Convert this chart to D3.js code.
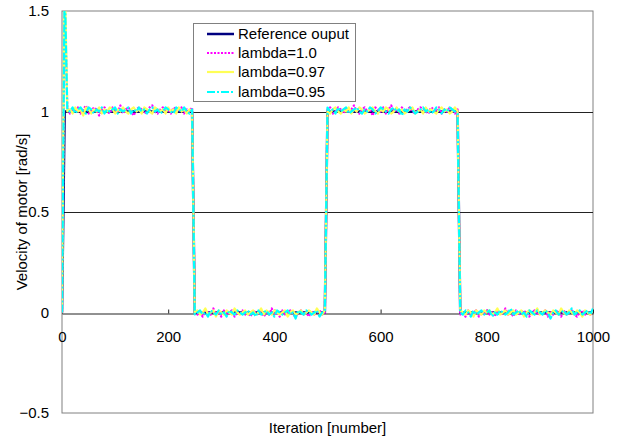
<!DOCTYPE html>
<html>
<head>
<meta charset="utf-8">
<script src="https://cdn.jsdelivr.net/npm/d3@7"></script>
<style>
  html, body { margin: 0; padding: 0; background: #fff; }
  svg { display: block; font-family: "Liberation Sans", Arial, sans-serif; }
</style>
</head>
<body>
<svg id="chart" width="622" height="439"></svg>
<script>
// Step reference (iteration, velocity) breakpoints
const refIter = [0, 5, 245, 250, 495, 500, 745, 750, 1000];
const refVel  = [0, 1, 1, 0, 0, 1, 1, 0, 0];

// Controller outputs, one sample every 5 iterations (0..1000)
const sampleStep = 5;

const lambda100 = [
  0, 1.56,
  1.02,0.99,1.01,1.00,1.02,0.99,1.01,1.03,0.99,1.00,
  1.02,1.01,0.98,1.01,1.02,1.00,0.99,1.02,1.01,1.00,
  1.03,0.99,1.01,1.02,1.00,0.98,1.01,1.02,1.01,0.99,
  1.00,1.02,1.03,1.00,0.99,1.01,1.02,1.00,1.01,0.99,
  1.02,1.01,1.00,1.02,0.99,1.01,1.00,1.02,
  0.01,-0.01,0.00,-0.02,0.01,0.00,-0.01,0.02,-0.01,0.00,
  -0.02,0.01,-0.01,0.00,0.01,-0.02,0.00,-0.01,0.01,-0.01,
  0.00,-0.02,0.01,0.00,-0.01,0.01,-0.02,0.00,-0.01,0.02,
  -0.01,0.00,-0.02,0.01,-0.01,0.00,0.01,-0.01,-0.02,0.00,
  0.01,-0.01,0.00,-0.02,0.01,-0.01,0.00,0.01,-0.01,0.00,
  1.01,1.02,0.99,1.00,1.02,1.01,0.99,1.02,1.00,1.01,
  1.03,1.00,0.99,1.01,1.02,1.00,1.01,0.98,1.02,1.01,
  1.00,1.02,0.99,1.01,1.03,1.00,1.01,0.99,1.02,1.00,
  1.01,1.02,1.00,0.99,1.01,1.02,1.01,1.00,0.99,1.02,
  1.01,1.00,1.02,0.99,1.01,1.00,1.02,1.01,0.99,1.01,
  -0.01,0.00,-0.02,0.01,-0.01,0.00,0.01,-0.02,0.00,-0.01,
  0.01,-0.01,0.00,-0.02,0.01,0.00,-0.01,0.02,-0.01,0.00,
  -0.02,0.01,-0.01,0.00,0.01,-0.01,-0.02,0.00,0.01,-0.01,
  0.00,-0.01,0.01,-0.02,0.00,-0.01,0.01,0.00,-0.02,0.01,
  -0.01,0.00,0.01,-0.01,-0.02,0.00,0.01,-0.01,0.00,-0.01,
  0.00
];

const lambda097 = [
  0, 1.72,
  1.00,1.01,0.99,1.02,1.00,1.01,0.98,1.02,1.01,0.99,
  1.01,1.00,1.02,0.99,1.01,1.00,1.02,1.01,0.99,1.01,
  1.00,1.02,1.00,0.99,1.01,1.02,1.00,1.01,0.99,1.02,
  1.01,1.00,0.99,1.02,1.01,1.00,1.01,0.99,1.02,1.00,
  1.01,0.99,1.02,1.00,1.01,0.99,1.01,1.00,
  0.00,0.01,-0.01,0.00,0.02,-0.01,0.00,0.01,-0.02,0.01,
  0.00,-0.01,0.01,0.00,-0.01,0.02,0.00,-0.01,0.00,0.01,
  -0.01,0.00,0.01,-0.01,0.00,0.02,-0.01,0.01,0.00,-0.01,
  0.01,0.00,-0.01,0.00,0.01,-0.02,0.00,0.01,-0.01,0.00,
  0.01,-0.01,0.00,0.01,0.00,-0.01,0.02,0.00,-0.01,0.01,
  1.00,0.99,1.01,1.02,1.00,0.99,1.01,1.00,1.02,0.99,
  1.01,1.00,1.02,1.01,0.99,1.00,1.01,1.02,1.00,0.99,
  1.01,1.00,1.02,1.01,0.99,1.00,1.02,1.00,1.01,0.99,
  1.00,1.01,1.02,0.99,1.00,1.01,0.99,1.02,1.00,1.01,
  1.00,0.99,1.01,1.02,1.00,1.01,0.99,1.00,1.02,1.00,
  0.01,0.00,-0.01,0.01,0.00,-0.02,0.01,0.00,-0.01,0.01,
  0.00,0.01,-0.01,0.00,0.02,-0.01,0.00,0.01,-0.01,0.00,
  0.01,-0.01,0.00,0.01,-0.02,0.00,0.01,-0.01,0.00,0.02,
  -0.01,0.00,0.01,0.00,-0.01,0.01,0.00,-0.01,0.02,0.00,
  -0.01,0.01,0.00,-0.01,0.01,0.00,-0.02,0.01,0.00,-0.01,
  0.01
];

const lambda095 = [
  0, 1.64,
  1.01,1.00,1.02,0.99,1.01,1.02,1.00,0.99,1.02,1.01,
  0.99,1.01,1.00,1.02,0.99,1.01,1.00,1.01,1.02,0.99,
  1.01,1.00,1.01,1.02,0.99,1.01,1.00,1.02,1.00,1.01,
  0.99,1.01,1.02,1.00,1.01,0.99,1.00,1.02,1.01,1.00,
  0.99,1.02,1.01,1.00,1.02,1.00,0.99,1.01,
  -0.01,0.00,0.01,-0.01,0.00,-0.02,0.01,0.00,-0.01,0.01,
  -0.01,0.00,-0.02,0.01,0.00,-0.01,0.01,0.00,-0.01,0.00,
  0.01,-0.01,0.00,-0.02,0.01,-0.01,0.00,0.01,-0.01,0.00,
  -0.02,0.01,0.00,-0.01,0.00,0.01,-0.01,0.00,-0.03,0.01,
  0.00,-0.01,0.01,0.00,-0.01,0.00,0.01,-0.02,0.00,0.01,
  1.02,1.00,1.01,0.99,1.02,1.00,1.01,1.02,0.99,1.00,
  1.01,1.02,1.00,0.99,1.01,1.00,1.02,1.01,0.99,1.00,
  1.02,1.01,1.00,0.99,1.01,1.02,1.00,1.01,0.98,1.01,
  1.00,1.02,1.01,0.99,1.00,1.01,1.02,1.00,1.01,0.99,
  1.00,1.02,1.01,0.99,1.01,1.00,1.02,1.01,1.00,0.99,
  0.00,-0.01,0.01,0.00,-0.02,0.01,-0.01,0.00,0.01,-0.01,
  0.00,0.01,-0.02,0.00,-0.01,0.01,0.00,-0.01,0.00,0.02,
  -0.01,0.00,0.01,-0.01,0.00,-0.02,0.01,0.00,-0.01,0.01,
  0.00,-0.01,0.01,0.00,-0.03,0.00,0.01,-0.01,0.00,0.01,
  -0.01,0.00,0.02,-0.01,0.00,0.01,-0.01,0.00,0.01,-0.01,
  0.02
];

const xTicks = [0, 200, 400, 600, 800, 1000];
const yTicks = [-0.5, 0, 0.5, 1, 1.5];
const gridValues = [0.5, 1];

const legendLabels = ["Reference ouput", "lambda=1.0", "lambda=0.97", "lambda=0.95"];

// ---- layout ----
const svg = d3.select("#chart");
const plot = { left: 62, right: 593, top: 11, bottom: 413 };

const x = d3.scaleLinear().domain([0, 1000]).range([plot.left, plot.right]);
const y = d3.scaleLinear().domain([-0.5, 1.5]).range([plot.bottom, plot.top]);

const series = [
  { name: legendLabels[0], pts: refIter.map((t, i) => [t, refVel[i]]),
    color: "#000080", width: 2.5, dash: null },
  { name: legendLabels[1], pts: lambda100.map((v, i) => [i * sampleStep, v]),
    color: "#ff00ff", width: 2.2, dash: "2,1.5" },
  { name: legendLabels[2], pts: lambda097.map((v, i) => [i * sampleStep, v]),
    color: "#ffff55", width: 2.2, dash: null },
  { name: legendLabels[3], pts: lambda095.map((v, i) => [i * sampleStep, v]),
    color: "#00ffff", width: 2.2, dash: "8,2,2,2" }
];

svg.append("defs").append("clipPath").attr("id", "plotClip")
  .append("rect")
  .attr("x", plot.left).attr("y", plot.top)
  .attr("width", plot.right - plot.left).attr("height", plot.bottom - plot.top);

// frame
svg.append("rect")
  .attr("x", plot.left).attr("y", plot.top)
  .attr("width", plot.right - plot.left).attr("height", plot.bottom - plot.top)
  .attr("fill", "#fff").attr("stroke", "#808080").attr("stroke-width", 1);

// horizontal grid lines
svg.append("g").selectAll("line").data(gridValues).join("line")
  .attr("x1", plot.left).attr("x2", plot.right)
  .attr("y1", d => Math.round(y(d)) + 0.5).attr("y2", d => Math.round(y(d)) + 0.5)
  .attr("stroke", "#222").attr("stroke-width", 1);

// y axis labels
const yAxis = svg.append("g")
  .attr("transform", `translate(${plot.left},0)`)
  .call(d3.axisLeft(y).tickValues(yTicks).tickSize(0).tickPadding(13)
    .tickFormat(d3.format("~g")));
yAxis.select(".domain").remove();
yAxis.selectAll("text").attr("font-size", 15).attr("fill", "#000")
  .attr("font-family", "Liberation Sans, Arial, sans-serif");

// x axis at velocity 0, ticks pointing up
const xAxis = svg.append("g")
  .attr("transform", `translate(0,${Math.round(y(0)) + 0.5})`)
  .call(d3.axisBottom(x).tickValues(xTicks).tickSizeInner(-4).tickSizeOuter(0)
    .tickPadding(18).tickFormat(d3.format("d")));
xAxis.select(".domain").attr("stroke", "#222");
xAxis.selectAll(".tick line").attr("stroke", "#222");
xAxis.selectAll("text").attr("font-size", 15).attr("fill", "#000")
  .attr("font-family", "Liberation Sans, Arial, sans-serif");

// data lines
const line = d3.line().x(d => x(d[0])).y(d => y(d[1]));
const lines = svg.append("g").attr("clip-path", "url(#plotClip)");
series.forEach(s => {
  lines.append("path")
    .attr("d", line(s.pts))
    .attr("fill", "none")
    .attr("stroke", s.color)
    .attr("stroke-width", s.width)
    .attr("stroke-dasharray", s.dash)
    .attr("stroke-linejoin", "round");
});

// axis titles
svg.append("text")
  .attr("x", (plot.left + plot.right) / 2).attr("y", 433)
  .attr("text-anchor", "middle").attr("font-size", 15).attr("fill", "#000")
  .text("Iteration [number]");

svg.append("text")
  .attr("transform", `translate(27,${(plot.top + plot.bottom) / 2}) rotate(-90)`)
  .attr("text-anchor", "middle").attr("font-size", 15).attr("fill", "#000")
  .text("Velocity of motor [rad/s]");

// legend
const legend = svg.append("g");
legend.append("rect")
  .attr("x", 193.5).attr("y", 23.5).attr("width", 162).attr("height", 78)
  .attr("fill", "#fff").attr("stroke", "#808080").attr("stroke-width", 1);
const rowY = [34, 53, 72, 92];
series.forEach((s, i) => {
  legend.append("line")
    .attr("x1", 207).attr("x2", 234).attr("y1", rowY[i]).attr("y2", rowY[i])
    .attr("stroke", s.color).attr("stroke-width", s.width)
    .attr("stroke-dasharray", s.dash);
  legend.append("text")
    .attr("x", 238).attr("y", rowY[i]).attr("dy", "0.35em")
    .attr("font-size", 15).attr("fill", "#000")
    .text(s.name);
});
</script>
</body>
</html>
